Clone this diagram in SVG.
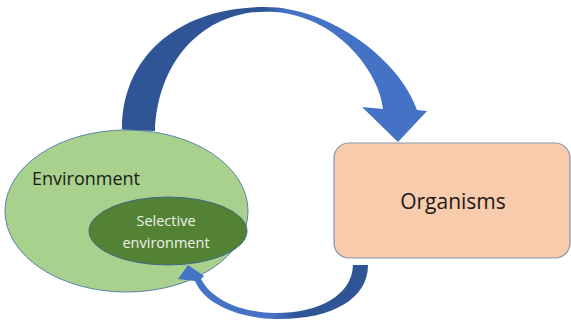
<svg xmlns="http://www.w3.org/2000/svg" width="571" height="320" viewBox="0 0 571 320">
<defs>
<style>
.lbl{font-family:"Open Sans","Liberation Sans",sans-serif;}
</style>
<linearGradient id="gTop" gradientUnits="userSpaceOnUse" x1="122" y1="0" x2="427" y2="0">
<stop offset="0" stop-color="#2f5597"/>
<stop offset="0.46" stop-color="#2f5597"/>
<stop offset="0.54" stop-color="#4472c4"/>
<stop offset="1" stop-color="#4472c4"/>
</linearGradient>
<linearGradient id="gBot" gradientUnits="userSpaceOnUse" x1="178" y1="0" x2="368" y2="0">
<stop offset="0" stop-color="#4472c4"/>
<stop offset="0.5" stop-color="#4472c4"/>
<stop offset="0.62" stop-color="#2f5597"/>
<stop offset="1" stop-color="#2f5597"/>
</linearGradient>
</defs>
<rect width="571" height="320" fill="#ffffff"/>
<g id="environment">
<ellipse cx="126.5" cy="211" rx="121.5" ry="81" fill="#a9d18e" stroke="#5a82a8" stroke-width="1"/>
<text class="lbl" x="32" y="185" font-size="18" fill="#1a1a1a">Environment</text>
</g>
<g id="selective-environment">
<ellipse cx="168" cy="231" rx="79" ry="34" fill="#548235" stroke="#3f6a8a" stroke-width="1"/>
<text class="lbl" x="166" y="226" font-size="14.5" fill="#eef3e8" text-anchor="middle">Selective</text>
<text class="lbl" x="166" y="248" font-size="14.5" fill="#eef3e8" text-anchor="middle">environment</text>
</g>
<g id="organisms">
<rect x="334" y="143" width="236" height="115" rx="15" ry="15" fill="#f8cbad" stroke="#8497b0" stroke-width="1.2"/>
<text class="lbl" x="453" y="209" font-size="21" fill="#1a1a1a" text-anchor="middle">Organisms</text>
</g>
<g id="connectors">
<path id="arrow-top" d="M122,129.5 C122,55 180,7 265,7 C330,7 400,60 417,110 L427,111 L398,142 L362,107 L383,109 C380,75 340,17 275,12 C210,7 158,55 155,131 Z" fill="url(#gTop)"/>
<path id="arrow-bottom" d="M368,265 C368,300 330,320 275,319 C240,318 205,305 195,281 L178,279 L188,265 L204,276 L201,279 C212,300 240,312 275,313 C320,313 352,295 353,265 Z" fill="url(#gBot)"/>
</g>
</svg>
